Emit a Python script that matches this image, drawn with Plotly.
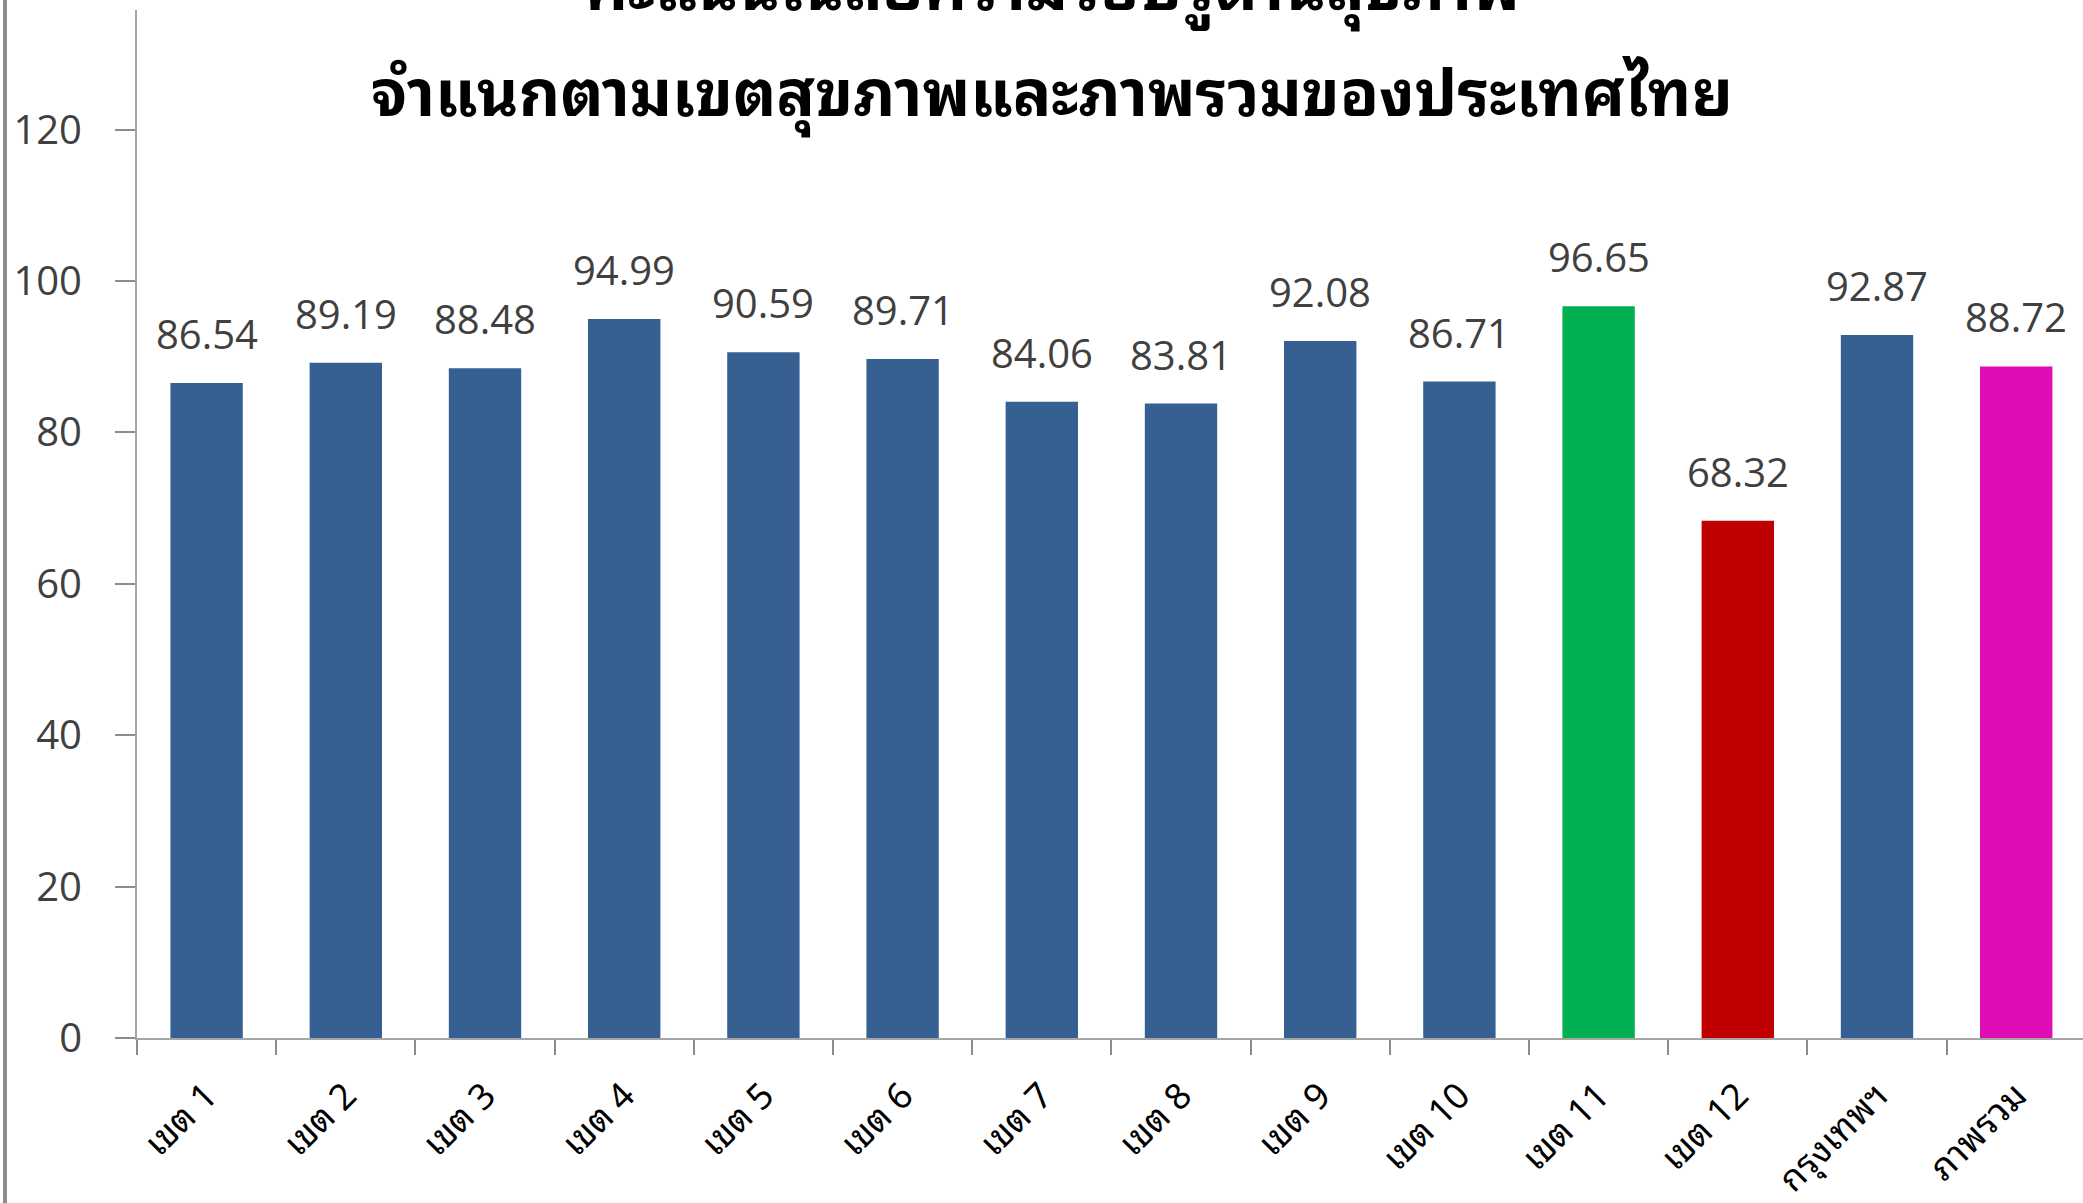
import plotly.graph_objects as go

categories = ["เขต 1", "เขต 2", "เขต 3", "เขต 4", "เขต 5", "เขต 6", "เขต 7",
              "เขต 8", "เขต 9", "เขต 10", "เขต 11", "เขต 12", "กรุงเทพฯ", "ภาพรวม"]
values = [86.54, 89.19, 88.48, 94.99, 90.59, 89.71, 84.06,
          83.81, 92.08, 86.71, 96.65, 68.32, 92.87, 88.72]
bar_colors = ["#376092"] * 10 + ["#00B050", "#C00000", "#376092", "#E00CB5"]
value_labels = [f"{v:.2f}" for v in values]
title_line1 = "คะแนนเฉลี่ยความรอบรู้ด้านสุขภาพ"
title_line2 = "จำแนกตามเขตสุขภาพและภาพรวมของประเทศไทย"
y_ticks = [0, 20, 40, 60, 80, 100, 120]

W, H = 2083, 1203
ML, MR, MT, MB = 137, 0, 10, 165

fig = go.Figure()
fig.add_trace(go.Bar(
    x=categories, y=values, marker=dict(color=bar_colors, line=dict(width=0)),
    width=0.52, showlegend=False, hoverinfo="x+y",
))

num_font = dict(family="Open Sans, Liberation Sans, sans-serif", size=40, color="#404040")
thai_font = "Noto Sans Thai Looped, Noto Sans Thai, Noto Sans, DejaVu Sans, sans-serif"

annotations = []
for c, v, t in zip(categories, values, value_labels):
    annotations.append(dict(x=c, y=v, xref="x", yref="y", text=t, showarrow=False,
                            yanchor="bottom", xanchor="center", yshift=20, font=num_font))

plot_w = W - ML - MR
plot_h = H - MT - MB
title_size = 64
for line, base in ((title_line2, 110), (title_line1, 4)):
    annotations.append(dict(x=(1052 - ML) / plot_w, y=1 + (MT - base) / plot_h,
                            xref="paper", yref="paper",
                            text="<b>" + line + "</b>", showarrow=False,
                            xanchor="center", yanchor="bottom", yshift=-30,
                            font=dict(family=thai_font, size=title_size, color="#000000")))

fig.update_layout(
    width=W, height=H,
    margin=dict(l=ML, r=MR, t=MT, b=MB, autoexpand=False),
    paper_bgcolor="white", plot_bgcolor="white",
    annotations=annotations,
    shapes=[dict(type="line", xref="paper", yref="paper",
                 x0=(5 - ML) / plot_w, x1=(5 - ML) / plot_w, y0=-0.3, y1=1.2,
                 line=dict(color="#8C8C8C", width=4))],
    xaxis=dict(
        type="category", range=[-0.5, -0.5 + plot_w / 139.2],
        showline=True, linecolor="#A6A6A6", linewidth=2,
        ticks="outside", tickson="boundaries", ticklen=15, tickcolor="#8C8C8C", tickwidth=2,
        ticklabelstandoff=20,
        tickangle=-45, tickfont=dict(family=thai_font, size=36, color="#000000"),
        showgrid=False, zeroline=False,
    ),
    yaxis=dict(
        range=[0, 135.8], tickvals=y_ticks,
        showline=True, linecolor="#A6A6A6", linewidth=2,
        ticks="outside", ticklen=20, tickcolor="#8C8C8C", tickwidth=2,
        ticklabelstandoff=25,
        tickfont=num_font, showgrid=False, zeroline=False,
    ),
)

fig.write_html("out.html", config={"displayModeBar": False},
               post_script="document.body.style.margin='0px';document.body.style.overflow='hidden';")
